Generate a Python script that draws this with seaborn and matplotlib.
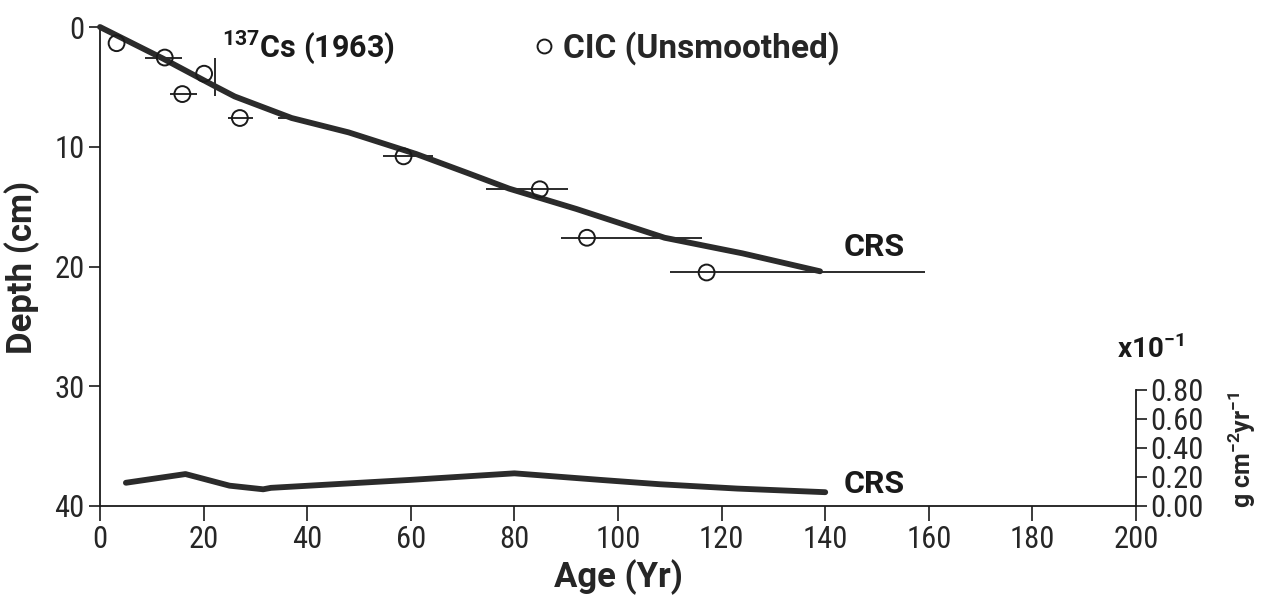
import matplotlib
matplotlib.use("Agg")
import matplotlib.pyplot as plt
from matplotlib import font_manager
from matplotlib.lines import Line2D
import seaborn as sns
import pandas as pd

# CRS age-depth model
crs_age = [0, 12, 22, 26, 37, 48, 61, 71, 79, 92, 109, 124, 139]
crs_depth = [0, 2.6, 4.9, 5.8, 7.6, 8.8, 10.6, 12.2, 13.5, 15.2, 17.6, 18.9, 20.4]

# CIC (unsmoothed) ages at sample depths
cic_age = [3.2, 12.5, 20.1, 15.9, 27.0, 58.6, 84.9, 94.0, 117.1]
cic_depth = [1.35, 2.55, 3.9, 5.6, 7.6, 10.8, 13.55, 17.6, 20.5]

# horizontal age-uncertainty bars: depth, lower age, upper age
bar_depth = [2.55, 5.6, 7.6, 7.6, 10.8, 13.55, 17.6, 20.5]
bar_low = [8.7, 13.5, 24.7, 34.4, 54.6, 74.5, 88.9, 110.0]
bar_high = [15.8, 18.7, 29.5, 38.0, 64.2, 90.4, 116.3, 159.3]

# 137Cs (1963) marker: age and depth range
cs_age = 22.2
cs_depth_range = [2.6, 5.8]

# CRS sedimentation rate (x10^-1 g cm^-2 yr^-1)
flux_age = [5, 16.5, 25, 31.5, 33, 60, 80, 96.5, 108, 123, 140]
flux_val = [0.16, 0.22, 0.14, 0.115, 0.125, 0.18, 0.225, 0.18, 0.15, 0.12, 0.095]

x_ticks = [0, 20, 40, 60, 80, 100, 120, 140, 160, 180, 200]
y_ticks = [0, 10, 20, 30, 40]
flux_ticks = [0.0, 0.2, 0.4, 0.6, 0.8]

sns.set_style("ticks")
available = {f.name for f in font_manager.fontManager.ttflist}
family = next(f for f in ["Liberation Sans Narrow", "Roboto Condensed",
                          "Liberation Sans", "DejaVu Sans"] if f in available)
bold_family = next(f for f in ["Roboto", "Liberation Sans", "DejaVu Sans"] if f in available)
plt.rcParams["font.family"] = [family, "DejaVu Sans"]
plt.rcParams["mathtext.fontset"] = "custom"
plt.rcParams["mathtext.rm"] = bold_family + ":bold"
plt.rcParams["mathtext.bf"] = bold_family + ":bold"

ink = "#1a1a1a"
line_col = "#2b2b2b"


def bold(size):
    return dict(family=[bold_family, "DejaVu Sans"], weight="bold", size=size)


fig = plt.figure(figsize=(12.61, 5.95), dpi=100)
ax = fig.add_axes([0.0793, 0.1496, 0.8216, 0.805])

crs_df = pd.DataFrame({"age": crs_age, "depth": crs_depth})
sns.lineplot(data=crs_df, x="age", y="depth", ax=ax, color=line_col, lw=4.2,
             sort=False, estimator=None, clip_on=False, zorder=3)

ax.hlines(bar_depth, bar_low, bar_high, color=ink, lw=1.3, zorder=2)
ax.vlines(cs_age, cs_depth_range[0], cs_depth_range[1], color=ink, lw=1.3, zorder=2)

cic_df = pd.DataFrame({"age": cic_age, "depth": cic_depth})
sns.scatterplot(data=cic_df, x="age", y="depth", ax=ax, marker="o", s=130,
                facecolor="none", edgecolor=ink, linewidth=1.4, zorder=4)

ax.set_xlim(0, 200)
ax.set_ylim(40, 0)
ax.set_xticks(x_ticks)
ax.set_yticks(y_ticks)
ax.tick_params(axis="x", labelsize=22, length=11, width=1.2, color=ink, pad=3)
ax.tick_params(axis="y", labelsize=22, length=8, width=1.2, color=ink, pad=3)
for s in ["top", "right"]:
    ax.spines[s].set_visible(False)
for s in ["left", "bottom"]:
    ax.spines[s].set_linewidth(1.3)
    ax.spines[s].set_color(ink)

ax.set_xlabel("Age (Yr)", fontdict=bold(25))
ax.set_ylabel("Depth (cm)", fontdict=bold(25))
ax.xaxis.set_label_coords(0.5, -0.112)
ax.yaxis.set_label_coords(-0.058, 0.497)

ax.text(23.5, 1.7, r"$^{137}$Cs (1963)", ha="left", va="center", color=ink, fontdict=bold(22))
ax.text(143.5, 18.4, "CRS", ha="left", va="center", color=ink, fontdict=bold(23))

leg = ax.legend(handles=[Line2D([], [], marker="o", ls="", mfc="none", mec=ink, mew=1.4, ms=10)],
                labels=["CIC (Unsmoothed)"], loc="center left", bbox_to_anchor=(0.416, 0.955),
                frameon=False, borderpad=0, borderaxespad=0, handlelength=0.8,
                handletextpad=0.15, prop={"family": [bold_family], "size": 24, "weight": "bold"})

# secondary scale for sedimentation rate
ax2 = ax.twinx()
flux_df = pd.DataFrame({"age": flux_age, "flux": flux_val})
sns.lineplot(data=flux_df, x="age", y="flux", ax=ax2, color=line_col, lw=4.2,
             sort=False, estimator=None)
ax2.set_ylim(0, 3.30)
ax2.set_yticks(flux_ticks)
ax2.set_yticklabels([f"{v:.2f}" for v in flux_ticks])
ax2.tick_params(axis="y", labelsize=22, length=8, width=1.2, color=ink, pad=2)
for s in ["top", "left", "bottom"]:
    ax2.spines[s].set_visible(False)
ax2.spines["right"].set_bounds(0, 0.8)
ax2.spines["right"].set_linewidth(1.3)
ax2.spines["right"].set_color(ink)
ax2.set_ylabel(r"g cm$^{-2}$yr$^{-1}$", fontdict=bold(18))
ax2.yaxis.set_label_coords(1.087, 0.118)
ax2.text(196.3, 1.08, r"x10$^{-1}$", ha="left", va="center", color=ink, fontdict=bold(20))
ax2.text(143.5, 0.15, "CRS", ha="left", va="center", color=ink, fontdict=bold(23))
ax2.set_xlim(0, 200)

fig.savefig("out.png", dpi=100)
